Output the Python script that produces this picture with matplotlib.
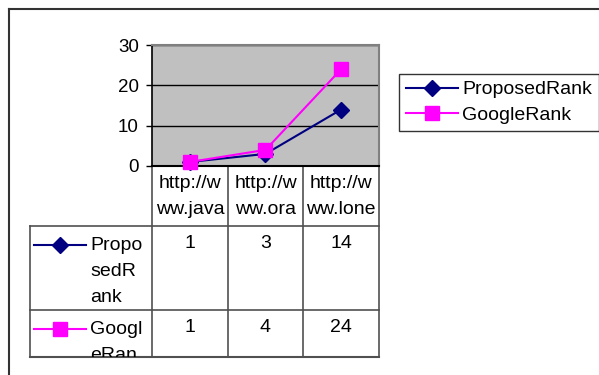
import matplotlib
matplotlib.use("Agg")
import matplotlib.pyplot as plt
from matplotlib.patches import Rectangle

categories = ["http://www.java", "http://www.ora", "http://www.lone"]
series_names = ["ProposedRank", "GoogleRank"]
proposed = [1, 3, 14]
google = [1, 4, 24]
yticks = [0, 10, 20, 30]

W, H = 599, 375
plt.rcParams['font.family'] = ['Liberation Sans', 'DejaVu Sans']
fig = plt.figure(figsize=(W / 100, H / 100), dpi=100)

def fx(x):
    return x / W

def fy(y):
    return 1 - y / H

# overlay axes in pixel coordinates
ov = fig.add_axes([0, 0, 1, 1])
ov.set_xlim(0, W)
ov.set_ylim(H, 0)
ov.axis('off')

fs = 14

# plot area
px0, px1, py0, py1 = 152, 379, 45, 166
ax = fig.add_axes([fx(px0), fy(py1), (px1 - px0) / W, (py1 - py0) / H])
ax.set_facecolor('#C0C0C0')
ax.set_xlim(-0.5, len(categories) - 0.5)
ax.set_ylim(0, 30)
ax.set_yticks(yticks)
ax.tick_params(axis='y', labelsize=13.5, length=4.5, width=1, pad=5, colors='black')
ax.set_xticks([])
for y in yticks[1:]:
    ax.axhline(y, color='black', lw=1, zorder=1)
for s in ['top', 'right']:
    ax.spines[s].set_color('#808080')
    ax.spines[s].set_linewidth(1.5)
ax.spines['left'].set_color('black')
ax.spines['bottom'].set_color('black')
ax.spines['left'].set_linewidth(1.2)
ax.spines['bottom'].set_linewidth(1.5)

x = list(range(len(categories)))
l1, = ax.plot(x, proposed, color='#000080', lw=1.5, marker='D', markersize=8,
              markerfacecolor='#000080', markeredgecolor='#000080', clip_on=False, zorder=3,
              label=series_names[0])
l2, = ax.plot(x, google, color='#FF00FF', lw=1.5, marker='s', markersize=9.5,
              markerfacecolor='#FF00FF', markeredgecolor='#FF00FF', clip_on=False, zorder=4,
              label=series_names[1])

# outer frame
ov.plot([9, 598], [9, 9], color='#333333', lw=1.5)
ov.plot([9, 9], [9, H], color='#333333', lw=1.5)

# table grid
tc = '#505050'
colx = [152, 228, 303, 379]
table_bottom = 357
ov.plot([30, 379], [226, 226], color=tc, lw=1.2)
ov.plot([30, 379], [310, 310], color=tc, lw=1.2)
ov.plot([30, 379], [table_bottom, table_bottom], color=tc, lw=1.5)
ov.plot([30, 30], [226, table_bottom], color=tc, lw=1.2)
for cx in colx:
    ov.plot([cx, cx], [166, table_bottom], color=tc, lw=1.2)

clip = Rectangle((0, 0), W, table_bottom, transform=ov.transData)

# category labels (wrapped)
for i, c in enumerate(categories):
    cx = (colx[i] + colx[i + 1]) / 2
    parts = [c[:8], c[8:]]
    for j, p in enumerate(parts):
        ov.text(cx, 184 + 25 * j, p, ha='center', va='center', fontsize=fs)

# row headers and values
rows = [proposed, google]
row_tops = [226, 310]
styles = [dict(color='#000080', marker='D', ms=8), dict(color='#FF00FF', marker='s', ms=9.5)]
breaks = [0, 5, 9]
for r, (name, vals) in enumerate(zip(series_names, rows)):
    top = row_tops[r]
    st = styles[r]
    ly = top + 19
    ov.plot([34, 86], [ly, ly], color=st['color'], lw=1.5)
    ov.plot([60], [ly], marker=st['marker'], ms=st['ms'], color=st['color'])
    b = breaks + [len(name)]
    chunks = [name[b[k]:b[k + 1]] for k in range(len(b) - 1)]
    for j, ch in enumerate(chunks):
        yy = ly + 26 * j
        if yy - 8 > table_bottom:
            continue  # hidden by the cell bottom
        t = ov.text(90, yy, ch, ha='left', va='center', fontsize=fs)
        t.set_clip_on(True)
        t.set_clip_path(clip)
    for i, v in enumerate(vals):
        cx = (colx[i] + colx[i + 1]) / 2
        ov.text(cx, top + 17, str(v), ha='center', va='center', fontsize=fs)

# legend
leg = fig.legend(handles=[l1, l2], loc='upper left',
                 bbox_to_anchor=(fx(399), fy(74)), fontsize=fs, frameon=True,
                 fancybox=False, edgecolor='black', borderpad=0.35,
                 handlelength=2.7, handletextpad=0.2, labelspacing=0.4,
                 borderaxespad=0)
leg.get_frame().set_linewidth(1.0)

fig.savefig('out.png', dpi=100)
